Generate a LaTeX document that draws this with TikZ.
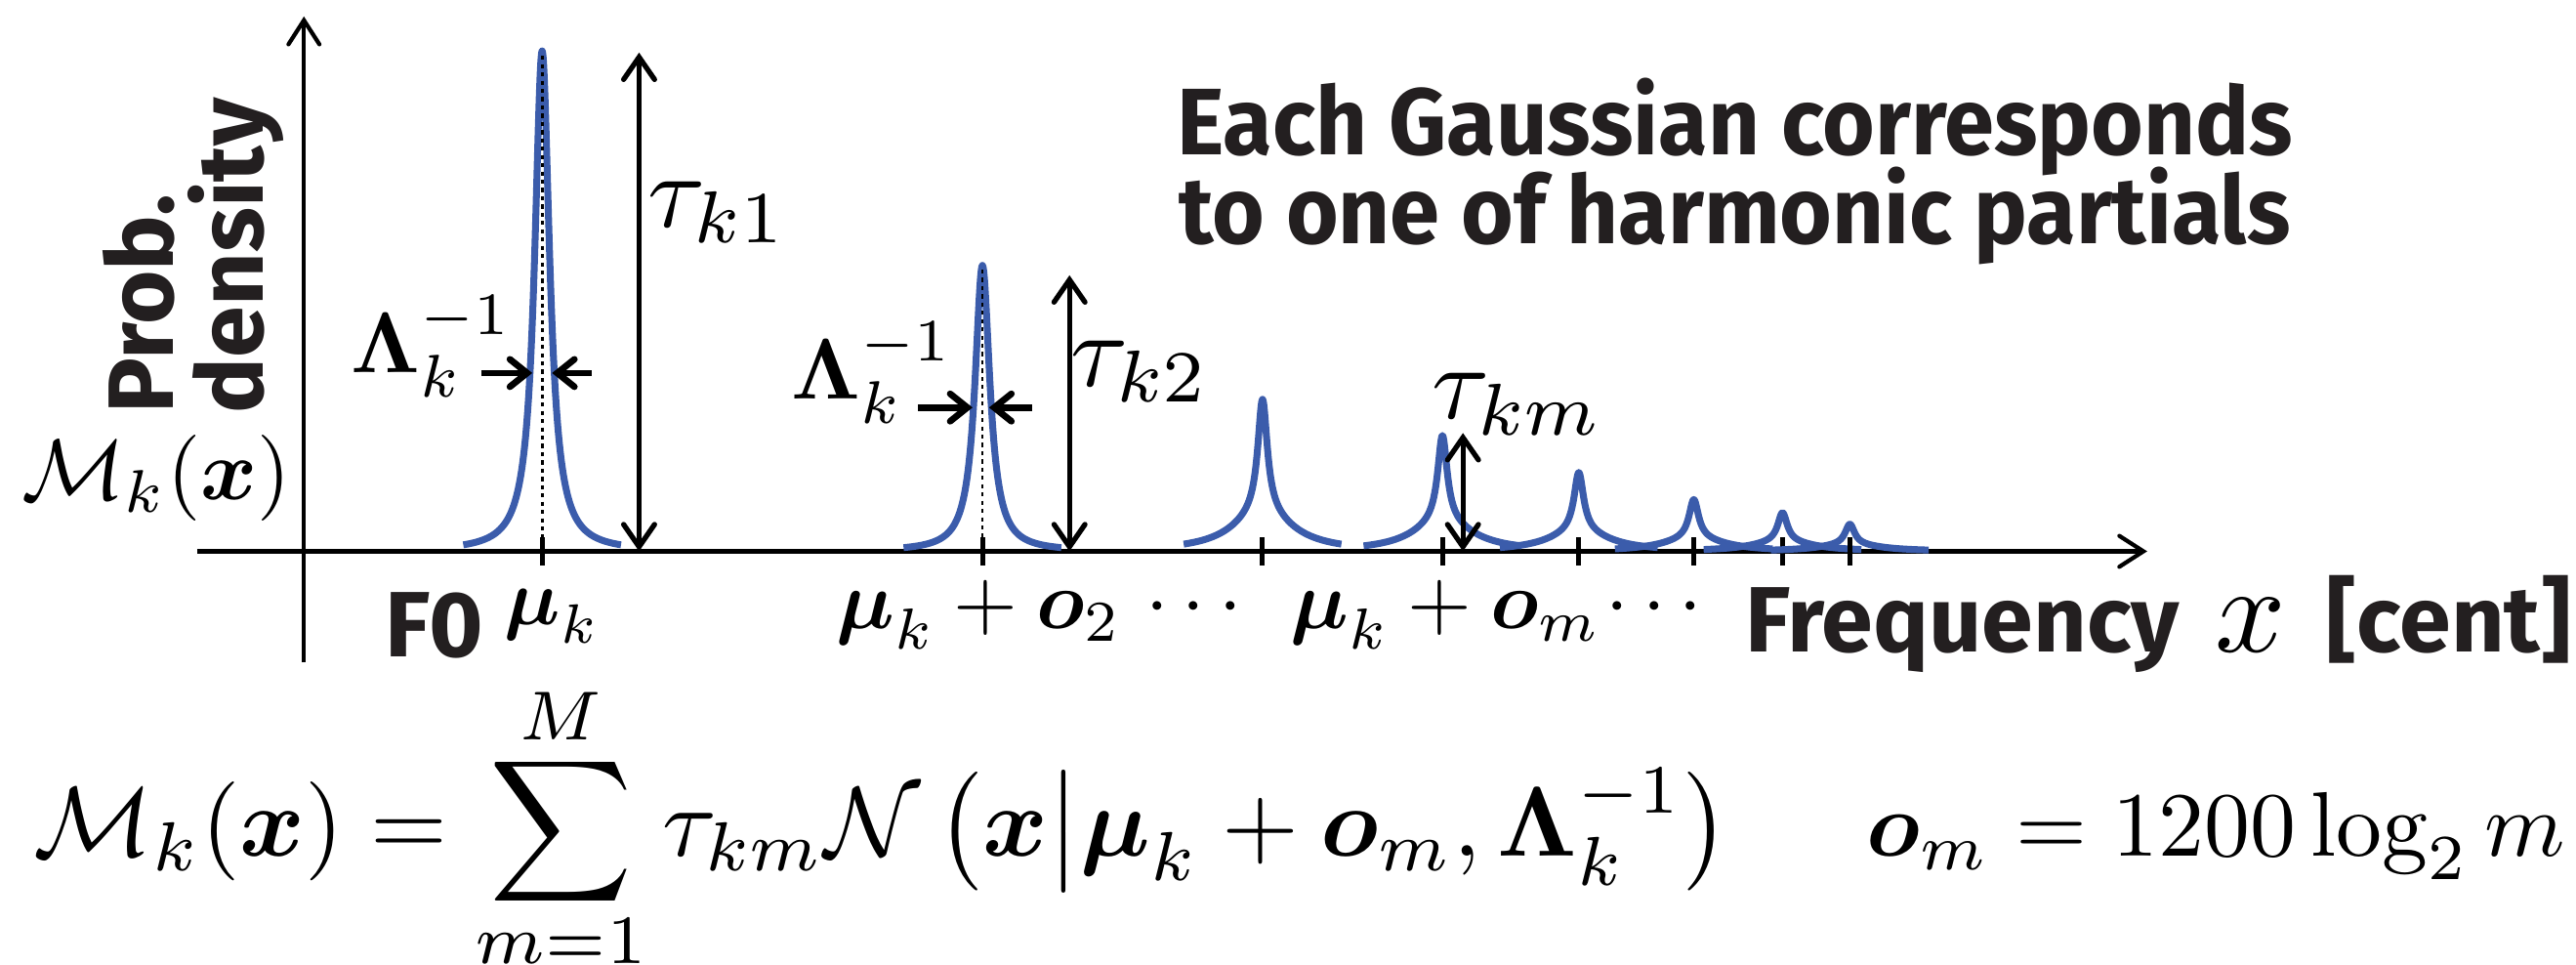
\documentclass[tikz,border=0pt]{standalone}
\usepackage{amsmath}
\usepackage{graphicx}
\usepackage{fontspec}
\newfontfamily\titlefont[FakeStretch=0.95]{Fira Sans}
\newfontfamily\labfont{Fira Sans}
\usetikzlibrary{arrows.meta}
\definecolor{curveblue}{RGB}{59,92,171}
\definecolor{inkblack}{RGB}{35,31,32}
\newcommand{\mathsc}[2]{\scalebox{#1}{$#2$}}
\tikzset{
  axisline/.style={line width=1.2pt,-{Straight Barb[length=7pt,width=9pt,line cap=round]}},
  tauarrow/.style={line width=1.5pt,{Straight Barb[length=6.5pt,width=9pt,line cap=round]}-{Straight Barb[length=6.5pt,width=9pt,line cap=round]}},
  lamarrow/.style={line width=1.9pt,-{Straight Barb[length=5pt,width=8pt,line cap=round]}},
  peak/.style={curveblue,line width=2pt,line join=round},
  tickmark/.style={line width=1.4pt},
  dotline/.style={line width=0.8pt,dash pattern=on 1.2pt off 1.2pt},
  mathlab/.style={inner sep=0pt},
  sanslab/.style={inner sep=0pt,text=inkblack,font=\labfont\bfseries\fontsize{27}{26}\selectfont},
  titlelab/.style={inner sep=0pt,text=inkblack,anchor=base,font=\titlefont\bfseries\fontsize{27.5}{27}\selectfont},
}
\begin{document}
\begin{tikzpicture}[x=0.4777pt,y=-0.4777pt]
\useasboundingbox (0,0) rectangle (1568,587);
% axes
\coordinate (yb) at (185,403);
\coordinate (yt) at (185,10);
\coordinate (xl) at (120,335.5);
\coordinate (xr) at (1307,335.5);
\draw[axisline] (yb) -- (yt);
\draw[axisline] (xl) -- (xr);
% main peaks (fundamental and 2nd partial)
\foreach \c/\h in {330/304.5,598/174}{
  \draw[peak] plot[domain={\c-48}:{\c+48},samples=241,smooth] (\x,{335.5-\h/(1+((\x-\c)/5.5)^2)});
  \draw[tickmark] (\c,327) -- (\c,344);
}
% higher partials
\foreach \c/\h in {768.5/92.5,878/70.5,961/48,1031/31.5,1085/23.5,1126/16.5}{
  \draw[peak] plot[domain={\c-48}:{\c+48},samples=241,smooth] (\x,{335.5-\h*(0.75/(1+((\x-\c)/3.5)^2)+0.25/(1+((\x-\c)/22)^2))});
  \draw[tickmark] (\c,327) -- (\c,344);
}
% dotted centre lines
\coordinate (p1t) at (330,34);
\coordinate (p1b) at (330,335.5);
\coordinate (p2t) at (598,164);
\coordinate (p2b) at (598,335.5);
\draw[dotline] (p1t) -- (p1b);
\draw[dotline] (p2t) -- (p2b);
% tau arrows
\coordinate (t1a) at (389,32);
\coordinate (t1b) at (389,335.5);
\coordinate (t2a) at (651,167.5);
\coordinate (t2b) at (651,335.5);
\coordinate (tma) at (890.5,263.5);
\coordinate (tmb) at (890.5,335.5);
\draw[tauarrow] (t1a) -- (t1b);
\draw[tauarrow] (t2a) -- (t2b);
\draw[tauarrow] (tma) -- (tmb);
\node[mathlab] (tau1) at (437,129) {\mathsc{3.05}{\tau_{k1}}};
\node[mathlab] (tau2) at (694,226) {\mathsc{3.05}{\tau_{k2}}};
\node[mathlab] (taum) at (924,246) {\mathsc{3.05}{\tau_{km}}};
% Lambda arrows
\coordinate (l1a) at (293,227);
\coordinate (l1b) at (324,227);
\coordinate (l1c) at (360,227);
\coordinate (l1d) at (336,227);
\draw[lamarrow] (l1a) -- (l1b);
\draw[lamarrow] (l1c) -- (l1d);
\node[mathlab] (lam1) at (263,211) {\mathsc{2.5}{\boldsymbol{\Lambda}_k^{-1}}};
\coordinate (l2a) at (559,248);
\coordinate (l2b) at (592,248);
\coordinate (l2c) at (628,248);
\coordinate (l2d) at (602,248);
\draw[lamarrow] (l2a) -- (l2b);
\draw[lamarrow] (l2c) -- (l2d);
\node[mathlab] (lam2) at (531,227) {\mathsc{2.5}{\boldsymbol{\Lambda}_k^{-1}}};
% left labels
\node[mathlab] (mk) at (95,291) {\mathsc{2.5}{\mathcal{M}_k(\boldsymbol{x})}};
\node[sanslab,rotate=90,align=left,anchor=south west] (pd) at (173,252) {Prob.\\density};
% x-axis labels
\node[sanslab,anchor=base west] (f0) at (234,400) {F0};
\node[mathlab] (muk) at (336,375) {\mathsc{2.3}{\boldsymbol{\mu}_k}};
\node[mathlab] (mo2) at (596,374) {\mathsc{2.4}{\boldsymbol{\mu}_k+\boldsymbol{o}_2}};
\node[mathlab] (dots1) at (731,370) {\mathsc{2.4}{\cdots}};
\node[mathlab] (mom) at (880,374) {\mathsc{2.4}{\boldsymbol{\mu}_k+\boldsymbol{o}_m}};
\node[mathlab] (dots2) at (1011,370) {\mathsc{2.4}{\cdots}};
\node[sanslab,anchor=base west] (freq) at (1062,396.5) {Frequency};
\node[inner sep=0pt,anchor=base] (xv) at (1370,396.5) {\mathsc{3.6}{x}};
\node[sanslab,anchor=base west] (cent) at (1416,396.5) {[cent]};
% title
\node[titlelab] (title1) at (1056,94) {Each Gaussian corresponds};
\node[titlelab] (title2) at (1056,148) {to one of harmonic partials};
% formula
\node[inner sep=0pt,anchor=base west] (formula) at (20,521) {\resizebox{493pt}{!}{$\fontdimen9\textfont3=1.2pt \fontdimen11\textfont3=1.2pt \fontdimen10\textfont3=0.8pt \fontdimen12\textfont3=5.3pt \fontdimen13\textfont3=0pt \displaystyle \mathcal{M}_k(\boldsymbol{x})=\sum_{m=1}^{M}\tau_{km}\mathcal{N}\left(\boldsymbol{x}\middle|\boldsymbol{\mu}_k+\boldsymbol{o}_m,\boldsymbol{\Lambda}_k^{-1}\right)$}};
\node[inner sep=0pt,anchor=base west] (offset) at (1136,521) {\resizebox{203pt}{!}{$\displaystyle \boldsymbol{o}_m=1200\log_2 m$}};
\end{tikzpicture}
\end{document}
